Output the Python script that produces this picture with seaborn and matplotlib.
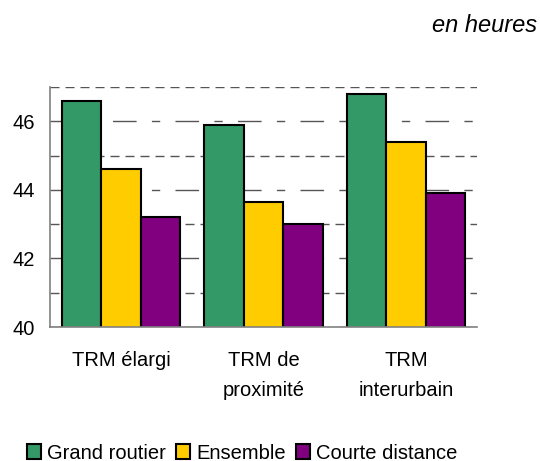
import pandas as pd
import matplotlib
matplotlib.use("Agg")
import matplotlib.pyplot as plt
from matplotlib.ticker import FixedLocator
import seaborn as sns

# data (hours per week)
categories = ["TRM élargi", "TRM de\nproximité", "TRM\ninterurbain"]
series = ["Grand routier", "Ensemble", "Courte distance"]
grand_routier = [46.6, 45.9, 46.8]
ensemble = [44.6, 43.65, 45.4]
courte_distance = [43.2, 43.0, 43.9]
colors = ["#339966", "#FFCC00", "#800080"]

df = pd.DataFrame({
    "cat": categories * 3,
    "serie": [s for s in series for _ in categories],
    "val": grand_routier + ensemble + courte_distance,
})

sns.set_style("white")
plt.rcParams["font.family"] = ["Liberation Sans", "DejaVu Sans"]
plt.rcParams["text.color"] = "black"

fig = plt.figure(figsize=(5.4, 4.61), dpi=100)
ax = fig.add_axes([50 / 540, 1 - 327 / 461, 427 / 540, 240 / 461])

sns.barplot(data=df, x="cat", y="val", hue="serie", order=categories,
            hue_order=series, palette=colors, width=0.83, gap=0,
            edgecolor="black", linewidth=1.5, saturation=1, ax=ax,
            legend=False)

ax.set_ylim(40, 47)
ax.set_xlim(-0.5, 2.5)
ax.yaxis.set_major_locator(FixedLocator([40, 42, 44, 46]))
ax.yaxis.set_minor_locator(FixedLocator([41, 43, 45, 47]))
ax.set_axisbelow(True)
ax.grid(axis="y", which="major", color="#555555", linewidth=1,
        linestyle=(0, (17, 11, 6, 11)))
ax.grid(axis="y", which="minor", color="#555555", linewidth=1,
        linestyle=(0, (6.5, 4.3)))
ax.tick_params(axis="y", which="both", length=0, pad=11, labelsize=14.5,
               labelcolor="black")
ax.tick_params(axis="x", length=0, pad=17, labelsize=14.5, labelcolor="black")
for lab in ax.get_xticklabels():
    lab.set_linespacing(1.75)
    lab.set_verticalalignment("top")
ax.set_xlabel("")
ax.set_ylabel("")
sns.despine(ax=ax)
for s in ["left", "bottom"]:
    ax.spines[s].set_color("#808080")
    ax.spines[s].set_linewidth(1.2)

fig.text(537 / 540, 1 - 26 / 461, "en heures", ha="right", va="center",
         fontsize=17, style="italic", color="black")

handles = [plt.Rectangle((0, 0), 1, 1, facecolor=c, edgecolor="black",
                         linewidth=1.5) for c in colors]
fig.legend(handles, series, loc="center", bbox_to_anchor=(242 / 540, 1 - 453 / 461),
           ncol=3, frameon=False, fontsize=14.5, handlelength=0.7,
           handleheight=0.7, handletextpad=0.3, columnspacing=0.5,
           borderpad=0, borderaxespad=0, labelcolor="black")

fig.savefig("out.png", dpi=100)
